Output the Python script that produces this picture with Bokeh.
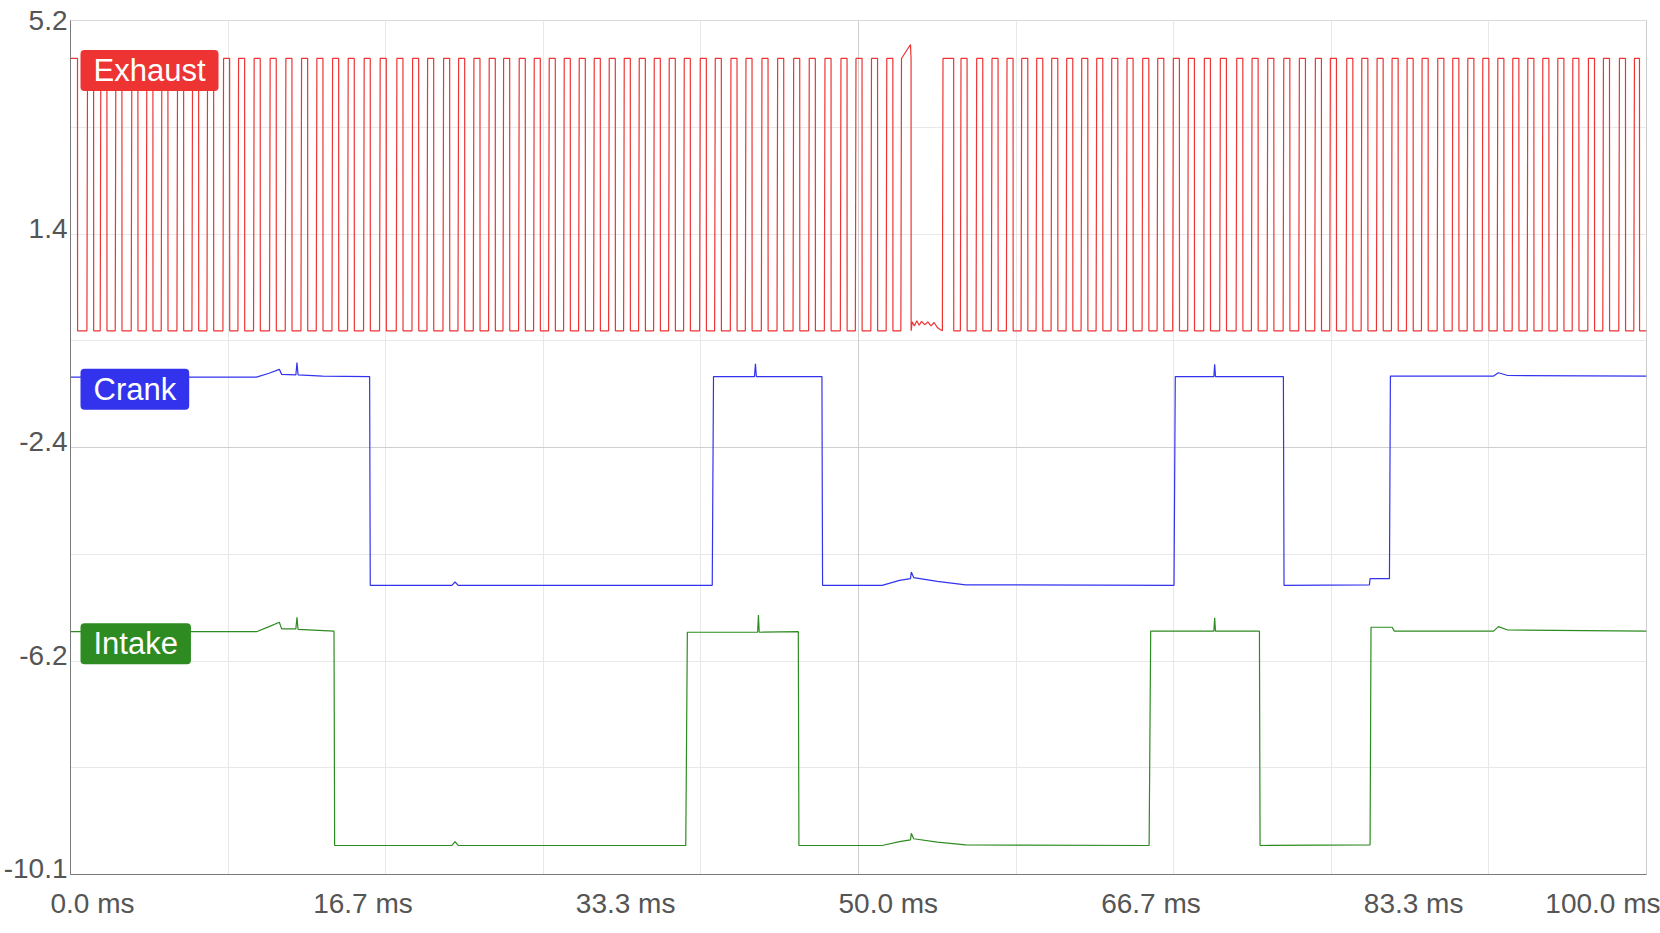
from bokeh.plotting import figure
from bokeh.models import Range1d, FixedTicker, Label, Span, Grid
from bokeh.embed import file_html
from bokeh.resources import INLINE

# ---------------- data ----------------
X_START, X_END = 0.0, 100.0
Y_MIN, Y_MAX = -10.1, 5.2

x_tick_values = [0.0, 100 / 6, 200 / 6, 50.0, 400 / 6, 500 / 6, 100.0]
x_tick_labels = ["0.0 ms", "16.7 ms", "33.3 ms", "50.0 ms", "66.7 ms", "83.3 ms", "100.0 ms"]
y_tick_labels = ["5.2", "1.4", "-2.4", "-6.2", "-10.1"]

series_names = ["Exhaust", "Crank", "Intake"]
series_colors = ["#ee3333", "#3333ee", "#2e8b22"]

# Exhaust: square pulse train (rising edges in ms)
exhaust_rise_ms = [
    1.041, 1.885, 2.837, 3.852, 4.804, 5.756, 6.753, 7.705, 8.657, 9.672,
    10.624, 11.614, 12.629, 13.626, 14.622, 15.593, 16.590, 17.580, 18.595, 19.610,
    20.670, 21.667, 22.619, 23.634, 24.586, 25.557, 26.528, 27.442, 28.432, 29.384,
    30.336, 31.288, 32.240, 33.192, 34.144, 35.096, 36.048, 37.000, 37.951, 38.903,
    39.919, 40.871, 41.867, 42.819, 43.835, 44.830, 45.846, 46.836, 47.833, 48.848,
    49.800, 50.784, 51.755, 52.688,
    55.322, 56.464, 57.460, 58.431, 59.383, 60.316, 61.268, 62.220, 63.172, 64.124,
    65.076, 66.028, 66.999, 67.995, 68.947, 69.937, 70.889, 71.905, 72.920, 73.961,
    74.932, 75.928, 76.944, 77.934, 78.949, 79.901, 80.942, 81.894, 82.865, 83.817,
    84.769, 85.721, 86.717, 87.669, 88.621, 89.573, 90.525, 91.477, 92.429, 93.381,
    94.333, 95.285, 96.275, 97.227, 98.242, 99.194,
]
exhaust_first_fall_ms = 0.444
exhaust_pulse_ms = 0.425
exhaust_wide_pulses = {52.688: 0.647, 55.322: 0.717, 99.194: 0.361}
exhaust_high = 4.52
exhaust_low = -0.36
exhaust_extra_points = [
    (53.30, 4.77),
    (53.40, -0.20), (53.55, -0.27), (53.70, -0.18), (53.85, -0.26), (54.00, -0.19),
    (54.20, -0.25), (54.40, -0.20), (54.60, -0.27), (54.80, -0.21), (55.00, -0.30),
    (55.20, -0.34),
]

# Crank: (time ms, value)
crank_trace = [
    (0.0, -1.19), (11.8, -1.19), (12.6, -1.12), (13.25, -1.05), (13.4, -1.14),
    (14.3, -1.15), (14.37, -0.93), (14.44, -1.15), (16.0, -1.17), (18.98, -1.18),
    (19.02, -4.92), (24.2, -4.92), (24.4, -4.86), (24.6, -4.92), (40.72, -4.92),
    (40.80, -1.18), (43.40, -1.18), (43.46, -0.95), (43.52, -1.18), (47.68, -1.18),
    (47.72, -4.92), (51.5, -4.92), (52.6, -4.83), (53.3, -4.80), (53.35, -4.68),
    (53.5, -4.78), (55.0, -4.85), (56.8, -4.91), (70.02, -4.92), (70.10, -1.18),
    (72.55, -1.18), (72.6, -0.96), (72.65, -1.18), (76.96, -1.18), (77.0, -4.92),
    (82.42, -4.91), (82.46, -4.80), (83.69, -4.80), (83.75, -1.17), (90.3, -1.17),
    (90.6, -1.11), (91.2, -1.16), (100.0, -1.17),
]

# Intake: (time ms, value)
intake_trace = [
    (0.0, -5.75), (11.8, -5.75), (12.6, -5.66), (13.25, -5.58), (13.4, -5.70),
    (14.3, -5.70), (14.37, -5.49), (14.44, -5.71), (16.72, -5.74), (16.76, -9.58),
    (24.2, -9.58), (24.4, -9.51), (24.6, -9.58), (39.04, -9.58), (39.14, -5.76),
    (43.6, -5.76), (43.65, -5.45), (43.7, -5.76), (46.18, -5.75), (46.22, -9.58),
    (51.5, -9.58), (52.6, -9.51), (53.3, -9.48), (53.35, -9.36), (53.5, -9.46),
    (55.0, -9.52), (56.8, -9.57), (68.44, -9.58), (68.54, -5.74), (72.55, -5.74),
    (72.6, -5.50), (72.65, -5.74), (75.44, -5.74), (75.48, -9.58), (82.46, -9.57),
    (82.52, -5.67), (83.86, -5.67), (84.0, -5.74), (90.3, -5.74), (90.6, -5.66),
    (91.2, -5.72), (100.0, -5.74),
]

# ---------------- build exhaust polyline from edges ----------------
pts = [(X_START, exhaust_high), (exhaust_first_fall_ms, exhaust_high),
       (exhaust_first_fall_ms + 0.005, exhaust_low)]
for r in exhaust_rise_ms:
    w = exhaust_wide_pulses.get(r, exhaust_pulse_ms)
    pts += [(r, exhaust_low), (r + 0.04, exhaust_high),
            (r + w, exhaust_high), (r + w + 0.005, exhaust_low)]
pts += exhaust_extra_points
pts.append((X_END, exhaust_low))
pts.sort(key=lambda q: q[0])
exhaust_x = [q[0] for q in pts]
exhaust_y = [q[1] for q in pts]

traces = [
    (exhaust_x, exhaust_y),
    ([q[0] for q in crank_trace], [q[1] for q in crank_trace]),
    ([q[0] for q in intake_trace], [q[1] for q in intake_trace]),
]
label_levels = [exhaust_high, crank_trace[0][1], intake_trace[0][1]]

# ---------------- layout constants ----------------
FONT = "Liberation Sans"
TICK_PX = 28
PAGE_W, PAGE_H = 1660, 925
FRAME_L, FRAME_R, FRAME_T, FRAME_B = 70, 1646, 20, 874
px_per_ms = (FRAME_R - FRAME_L) / (X_END - X_START)
px_per_unit = (FRAME_B - FRAME_T) / (Y_MAX - Y_MIN)
X_LABEL_LEFT_SHIFT = 20   # x tick labels start 20px left of their tick
Y_LABEL_RAISE = 6         # y tick labels sit 6px above their grid line

CHAR_EM = {".": 0.278, " ": 0.278, "m": 0.833, "s": 0.5, "-": 0.333}


def text_width(t, size):
    return sum(CHAR_EM.get(ch, 0.556) for ch in t) * size


# label anchor positions (centred labels placed where the reference shows them)
x_label_pos = [min(X_END, v + (text_width(t, TICK_PX) / 2 - X_LABEL_LEFT_SHIFT) / px_per_ms)
               for v, t in zip(x_tick_values, x_tick_labels)]
y_tick_values = [Y_MAX - i * (Y_MAX - Y_MIN) / (len(y_tick_labels) - 1)
                 for i in range(len(y_tick_labels))]
y_tick_values[0], y_tick_values[-1] = Y_MAX, Y_MIN
y_label_pos = [min(Y_MAX, v + Y_LABEL_RAISE / px_per_unit) for v in y_tick_values]

# ---------------- figure ----------------
p = figure(width=PAGE_W, height=PAGE_H,
           x_range=Range1d(X_START, X_END), y_range=Range1d(Y_MIN, Y_MAX),
           output_backend="svg", toolbar_location=None,
           min_border_left=FRAME_L, min_border_right=PAGE_W - FRAME_R,
           min_border_top=FRAME_T, min_border_bottom=PAGE_H - FRAME_B)
p.outline_line_color = "#cccccc"
p.outline_line_width = 1
p.background_fill_color = "white"
p.border_fill_color = "white"

# grids
p.center = [r for r in p.center if not isinstance(r, Grid)]
p.add_layout(Grid(dimension=0, ticker=FixedTicker(
    ticks=[X_START + i * (X_END - X_START) / 10 for i in range(11)]),
    grid_line_color="#e8e8e8"))
p.add_layout(Grid(dimension=1, ticker=FixedTicker(
    ticks=[Y_MIN + i * (Y_MAX - Y_MIN) / 8 for i in range(9)]),
    grid_line_color="#e8e8e8"))

# axes
xax = p.xaxis[0]
xax.ticker = FixedTicker(ticks=x_label_pos)
xax.major_label_overrides = {pos: t for pos, t in zip(x_label_pos, x_tick_labels)}
xax.major_label_standoff = 13
yax = p.yaxis[0]
yax.ticker = FixedTicker(ticks=y_label_pos)
yax.major_label_overrides = {pos: t for pos, t in zip(y_label_pos, y_tick_labels)}
yax.major_label_standoff = 3
for ax in (xax, yax):
    ax.major_label_text_font = FONT
    ax.major_label_text_font_size = f"{TICK_PX}px"
    ax.major_label_text_color = "#555555"
    ax.major_tick_line_color = None
    ax.minor_tick_line_color = None
    ax.major_tick_out = 0
    ax.major_tick_in = 0
    ax.minor_tick_out = 0
    ax.minor_tick_in = 0
    ax.axis_line_color = "#7a7a7a"
    ax.axis_line_width = 1

# centre cross lines
p.add_layout(Span(location=(X_START + X_END) / 2, dimension="height",
                  line_color="#cfcfcf", line_width=1, level="underlay"))
p.add_layout(Span(location=(Y_MIN + Y_MAX) / 2, dimension="width",
                  line_color="#cfcfcf", line_width=1, level="underlay"))

for (xs, ys), c in zip(traces, series_colors):
    p.line(xs, ys, line_color=c, line_width=1.2)

# series name badges
for name, c, lvl in zip(series_names, series_colors, label_levels):
    p.add_layout(Label(x=X_START, y=lvl, x_offset=10, y_offset=-12, text=name,
                       text_font=FONT, text_font_size="31px", text_color="white",
                       text_align="left", text_baseline="middle",
                       background_fill_color=c, background_fill_alpha=1.0,
                       padding=dict(left=13, right=13, top=3, bottom=3),
                       border_radius=4))

open("out.html", "w").write(file_html(p, INLINE))
